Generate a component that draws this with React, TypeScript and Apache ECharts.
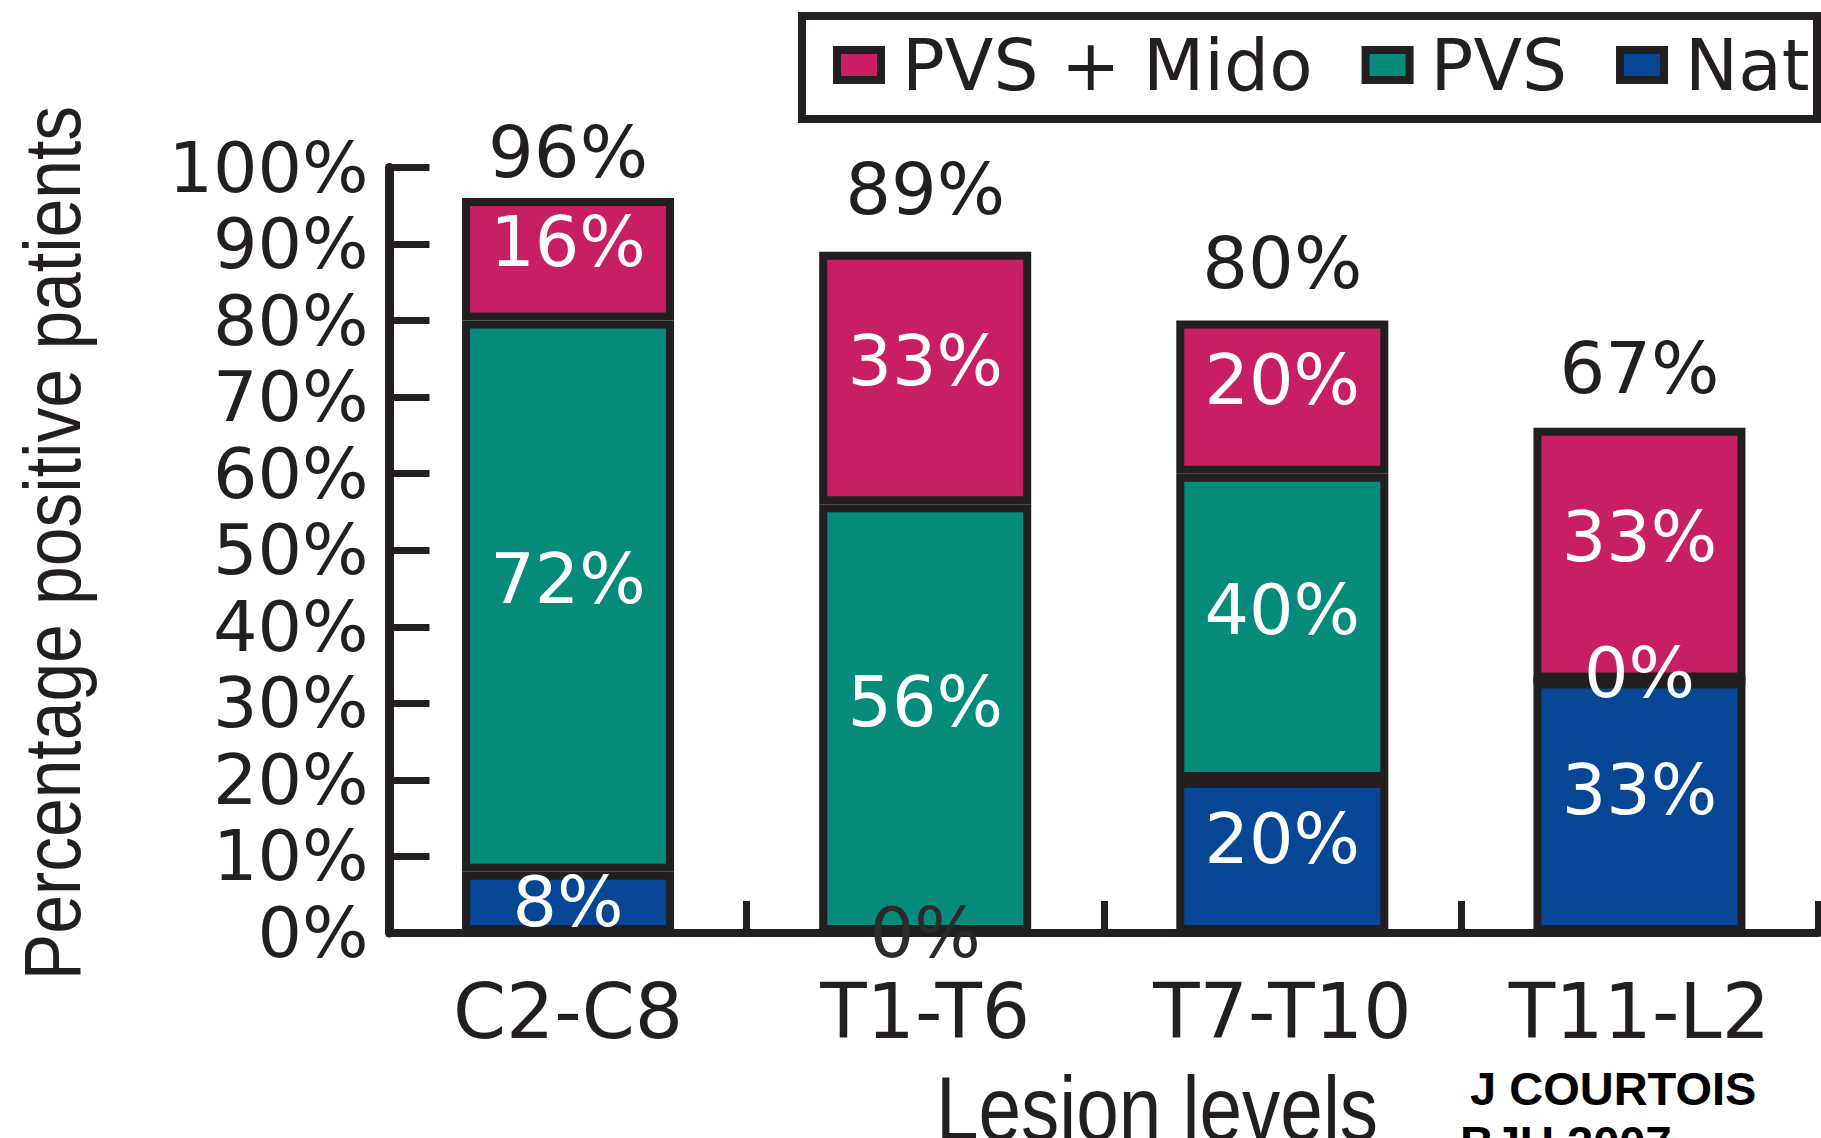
import React, { useEffect, useRef } from "react";
import * as echarts from "echarts";

// ---- Data ----
const categories = ["C2-C8", "T1-T6", "T7-T10", "T11-L2"];
const natValues = [8, 0, 20, 33];
const pvsValues = [72, 56, 40, 0];
const pvsMidoValues = [16, 33, 20, 33];
const totalLabels = ["96%", "89%", "80%", "67%"];
const seriesNames = ["PVS + Mido", "PVS", "Nat"];

const INK = "#231f20";
const COLORS: Record<string, string> = {
  "PVS + Mido": "#c81f64",
  PVS: "#068a7a",
  Nat: "#074694",
};
const LABEL_FONT = "DejaVu Sans";
const BAR_WIDTH = 212;

function withOverrides(values: number[], overrides: Record<number, any>) {
  return values.map((v, i) =>
    overrides[i] ? { value: v, label: overrides[i] } : v
  );
}

export default function App() {
  const ref = useRef<HTMLDivElement>(null);

  useEffect(() => {
    document.body.style.margin = "0";
    document.body.style.overflow = "hidden";
    if (!ref.current) return;
    const chart = echarts.init(ref.current, undefined, { renderer: "svg" });

    const barCommon = {
      type: "bar",
      stack: "total",
      barWidth: BAR_WIDTH,
      itemStyle: { borderColor: INK, borderWidth: 8 },
      emphasis: { disabled: true },
      label: {
        show: true,
        position: "inside",
        color: "#ffffff",
        fontFamily: LABEL_FONT,
        fontSize: 70,
        offset: [0, -17],
        formatter: "{c}%",
      },
    };

    const totalDistances = [10, 27, 22, 24];

    const option: any = {
      animation: false,
      backgroundColor: "#ffffff",
      grid: { left: 389.5, right: 3, top: 167.5, bottom: 205, containLabel: false },
      legend: {
        data: seriesNames,
        left: 833,
        top: 29.5,
        padding: 0,
        itemWidth: 44,
        itemHeight: 30,
        itemGap: 49,
        icon: "rect",
        selectedMode: false,
        itemStyle: { borderColor: INK, borderWidth: 8 },
        textStyle: {
          fontFamily: LABEL_FONT,
          fontSize: 71,
          color: INK,
          padding: [0, 0, 0, 16],
        },
      },
      xAxis: {
        type: "category",
        data: categories,
        boundaryGap: true,
        axisLine: { show: true, lineStyle: { color: INK, width: 8 } },
        axisTick: { show: true, inside: true, length: 32, lineStyle: { color: INK, width: 7 } },
        axisLabel: { fontFamily: LABEL_FONT, fontSize: 76, color: INK, margin: 40 },
        splitLine: { show: false },
      },
      yAxis: {
        type: "value",
        min: 0,
        max: 100,
        interval: 10,
        axisLine: { show: true, lineStyle: { color: INK, width: 9 } },
        axisTick: { show: true, inside: true, length: 40, lineStyle: { color: INK, width: 7 } },
        axisLabel: { fontFamily: LABEL_FONT, fontSize: 70, color: INK, margin: 21, formatter: "{value}%" },
        splitLine: { show: false },
      },
      series: [
        {
          ...barCommon,
          name: "Nat",
          itemStyle: { ...barCommon.itemStyle, color: COLORS.Nat },
          data: withOverrides(natValues, {
            0: { offset: [0, 0] },
            1: { offset: [0, 0], color: "#2b2b2b" },
          }),
        },
        {
          ...barCommon,
          name: "PVS",
          itemStyle: { ...barCommon.itemStyle, color: COLORS.PVS },
          data: withOverrides(pvsValues, { 3: { offset: [0, -7] } }),
        },
        {
          ...barCommon,
          name: "PVS + Mido",
          itemStyle: { ...barCommon.itemStyle, color: COLORS["PVS + Mido"] },
          data: pvsMidoValues,
        },
        {
          type: "bar",
          name: "Total",
          stack: "total",
          barWidth: BAR_WIDTH,
          emphasis: { disabled: true },
          itemStyle: { color: "rgba(0,0,0,0)", borderWidth: 0 },
          label: {
            show: true,
            position: "top",
            color: INK,
            fontFamily: LABEL_FONT,
            fontSize: 72,
            formatter: (p: any) => totalLabels[p.dataIndex],
          },
          data: totalLabels.map((_, i) => ({ value: 0, label: { distance: totalDistances[i] } })),
        },
      ],
      graphic: [
        {
          type: "rect",
          shape: { x: 802, y: 16, width: 1015, height: 103 },
          style: { fill: "none", stroke: INK, lineWidth: 8 },
          silent: true,
        },
        {
          type: "text",
          x: 52,
          y: 543,
          rotation: Math.PI / 2,
          scaleX: 0.87,
          style: {
            text: "Percentage positive patients",
            fontFamily: "Liberation Sans",
            fontSize: 80,
            fill: INK,
            align: "center",
            verticalAlign: "middle",
          },
        },
        {
          type: "text",
          x: 1157,
          y: 1109,
          scaleX: 0.85,
          style: {
            text: "Lesion levels",
            fontFamily: "Liberation Sans",
            fontSize: 90,
            fill: INK,
            align: "center",
            verticalAlign: "middle",
          },
        },
        {
          type: "text",
          x: 1470,
          y: 1088.5,
          style: {
            text: "J COURTOIS",
            fontFamily: "Liberation Sans",
            fontWeight: "bold",
            fontSize: 47,
            fill: "#000000",
            align: "left",
            verticalAlign: "middle",
          },
        },
        {
          type: "text",
          x: 1460,
          y: 1142,
          style: {
            text: "BJU 2007",
            fontFamily: "Liberation Sans",
            fontWeight: "bold",
            fontSize: 47,
            fill: "#000000",
            align: "left",
            verticalAlign: "middle",
          },
        },
      ],
    };

    chart.setOption(option);
    return () => chart.dispose();
  }, []);

  return <div ref={ref} style={{ width: 1821, height: 1138 }} />;
}
